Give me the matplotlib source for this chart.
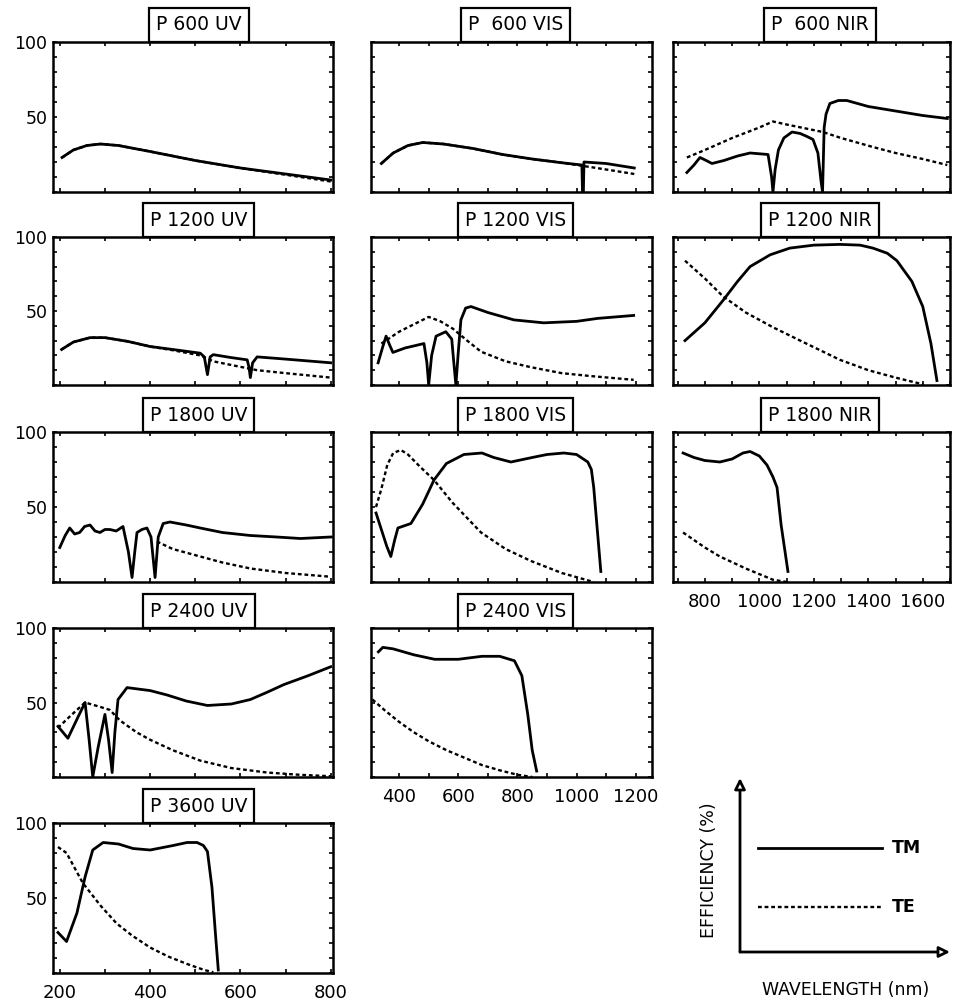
import matplotlib
matplotlib.use("Agg")
import matplotlib.pyplot as plt
from matplotlib.patches import FancyArrowPatch
from matplotlib.ticker import MultipleLocator, FixedLocator, NullFormatter

plt.rcParams['font.family'] = ['DejaVu Sans']

# ---------------- efficiency curves (wavelength in nm, efficiency in %) ----------------
# P 600 UV
p600uv_wl_tm = [205, 230, 260, 290, 330, 400, 500, 600, 700, 800]
p600uv_tm = [23, 28, 31, 32, 31, 27, 21, 16, 12, 8]
p600uv_wl_te = [205, 230, 260, 290, 330, 400, 500, 600, 700, 800]
p600uv_te = [23, 28, 31, 32, 31, 27, 21, 16, 11.5, 7]

# P 600 VIS
p600vis_wl_tm = [340, 380, 430, 480, 550, 650, 750, 850, 950, 1018, 1020, 1023, 1025, 1100, 1195]
p600vis_tm = [19, 26, 31, 33, 32, 29, 25, 22, 19.5, 18, 0, 0, 20, 19, 16]
p600vis_wl_te = [340, 380, 430, 480, 550, 650, 750, 850, 950, 1018, 1100, 1195]
p600vis_te = [19, 26, 31, 33, 32, 29, 25, 22, 19.5, 17.5, 15, 12]

# P 600 NIR
p600nir_wl_tm = [734, 760, 782, 805, 826, 870, 920, 966, 1032, 1045, 1050, 1058, 1070, 1090,
                 1120, 1150, 1175, 1197, 1215, 1226, 1232, 1238, 1245, 1259, 1290, 1321, 1400,
                 1500, 1600, 1690]
p600nir_tm = [13, 18, 23, 21, 19, 21, 24, 26, 25, 10, 0, 15, 28, 36,
              40, 39, 37, 35, 26, 8, 0, 43, 52, 59, 61, 61, 57,
              54, 51, 49]
p600nir_wl_te = [734, 800, 900, 1000, 1050, 1100, 1233, 1300, 1417, 1500, 1600, 1690]
p600nir_te = [23, 28, 36, 43, 47, 45, 40, 36, 30, 26, 22, 18]

# P 1200 UV
p1200uv_wl_tm = [204, 230, 267, 300, 350, 400, 450, 511, 520, 527, 533, 540, 580, 615, 619,
                 622, 627, 637, 700, 800]
p1200uv_tm = [24, 29, 32, 32, 29.5, 26, 24, 21.5, 19, 7, 19, 20.5, 18.5, 17, 12,
              5, 15, 19, 17.5, 15]
p1200uv_wl_te = [204, 230, 267, 300, 350, 400, 450, 511, 540, 580, 637, 700, 800]
p1200uv_te = [24, 29, 32, 32, 29.5, 26, 23.5, 20, 16, 13.5, 10, 8, 5]

# P 1200 VIS
p1200vis_wl_tm = [329, 345, 356, 368, 379, 420, 484, 494, 500, 510, 525, 558, 578, 585, 592,
                  600, 609, 625, 643, 700, 788, 889, 1000, 1071, 1193]
p1200vis_tm = [15, 26, 33, 27, 22, 25, 28, 15, 0, 20, 33, 36, 31, 15, 0,
               22, 44, 52, 53, 49, 44, 42, 43, 45, 47]
p1200vis_wl_te = [340, 400, 450, 500, 540, 582, 630, 677, 760, 846, 950, 1050, 1193]
p1200vis_te = [28, 36, 41, 46, 43, 38, 30, 22.5, 16, 12, 8, 6, 3.5]

# P 1200 NIR
p1200nir_wl_tm = [727, 800, 866, 920, 966, 1040, 1112, 1200, 1296, 1370, 1417, 1470, 1505,
                  1560, 1600, 1630, 1652]
p1200nir_tm = [30, 42, 57, 70, 80, 88, 92.5, 94.5, 95, 94.5, 92.5, 89, 84,
               70, 53, 28, 3]
p1200nir_wl_te = [727, 800, 866, 950, 1050, 1150, 1296, 1400, 1500, 1600]
p1200nir_te = [84, 72, 60, 49, 39, 30, 17, 10, 5, 0.5]

# P 1800 UV
p1800uv_wl_tm = [200, 212, 222, 233, 244, 255, 267, 278, 289, 300, 311, 325, 340, 352, 360,
                 366, 371, 382, 393, 402, 411, 418, 429, 444, 480, 511, 560, 622, 680, 733, 800]
p1800uv_tm = [23, 31, 36, 32, 33, 37, 38, 34, 33, 35, 35, 34, 37, 20, 3,
              20, 33, 35, 36, 30, 3, 30, 39, 40, 38, 36, 33, 31, 30, 29, 30]
p1800uv_wl_te = [415, 450, 511, 560, 622, 700, 800]
p1800uv_te = [27, 22, 17, 13, 9, 6, 3.5]

# P 1800 VIS
p1800vis_wl_tm = [322, 340, 358, 372, 385, 396, 440, 480, 518, 560, 619, 680, 720, 778, 850,
                  900, 957, 1000, 1038, 1050, 1058, 1070, 1082]
p1800vis_tm = [46, 35, 24, 17, 28, 36, 39, 52, 68, 79, 85, 86, 83, 80, 83,
               85, 86, 85, 80, 75, 63, 35, 7]
p1800vis_wl_te = [322, 340, 360, 380, 406, 430, 470, 518, 580, 677, 760, 846, 950, 1058]
p1800vis_te = [50, 62, 78, 86, 88, 85, 77, 68, 53, 33, 22, 14, 6, 0]

# P 1800 NIR
p1800nir_wl_tm = [720, 760, 800, 855, 900, 940, 966, 1000, 1028, 1050, 1065, 1080, 1105]
p1800nir_tm = [86, 83, 81, 80, 82, 86, 87, 84, 78, 70, 63, 38, 7]
p1800nir_wl_te = [720, 800, 855, 950, 1050, 1101]
p1800nir_te = [33, 23, 17, 9, 1.5, 0]

# P 2400 UV
p2400uv_wl_tm = [196, 218, 240, 256, 265, 273, 285, 300, 308, 316, 322, 329, 349, 400, 438,
                 480, 527, 580, 622, 660, 696, 750, 800]
p2400uv_tm = [34, 26, 40, 50, 25, 0, 20, 42, 25, 3, 30, 52, 60, 58, 55,
              51, 48, 49, 52, 57, 62, 68, 74]
p2400uv_wl_te = [196, 220, 256, 290, 311, 333, 370, 400, 450, 511, 580, 659, 730, 800]
p2400uv_te = [33, 40, 50, 47, 45, 38, 30, 25, 18, 11, 6, 3, 1.5, 0.5]

# P 2400 VIS
p2400vis_wl_tm = [330, 345, 380, 450, 520, 600, 680, 740, 790, 815, 835, 850, 865]
p2400vis_tm = [84, 87, 86, 82, 79, 79, 81, 81, 78, 68, 42, 18, 4]
p2400vis_wl_te = [310, 350, 400, 450, 500, 560, 620, 680, 740, 800, 850]
p2400vis_te = [52, 45, 37, 30, 24, 18, 13, 8, 4.5, 1.5, 0]

# P 3600 UV
p3600uv_wl_tm = [196, 215, 238, 256, 273, 296, 330, 362, 400, 451, 482, 504, 518, 527, 537,
                 545, 551]
p3600uv_tm = [27, 21, 40, 64, 82, 87, 86, 83, 82, 85, 87, 87, 85, 81, 57,
              25, 2]
p3600uv_wl_te = [196, 215, 251, 290, 326, 360, 400, 440, 482, 520, 540]
p3600uv_te = [84, 80, 60, 45, 33, 25, 17, 11, 6, 2, 0.5]

# grating name, column, row, curves
panels = [
    ("P 600 UV", 0, 0, p600uv_wl_tm, p600uv_tm, p600uv_wl_te, p600uv_te),
    ("P  600 VIS", 1, 0, p600vis_wl_tm, p600vis_tm, p600vis_wl_te, p600vis_te),
    ("P  600 NIR", 2, 0, p600nir_wl_tm, p600nir_tm, p600nir_wl_te, p600nir_te),
    ("P 1200 UV", 0, 1, p1200uv_wl_tm, p1200uv_tm, p1200uv_wl_te, p1200uv_te),
    ("P 1200 VIS", 1, 1, p1200vis_wl_tm, p1200vis_tm, p1200vis_wl_te, p1200vis_te),
    ("P 1200 NIR", 2, 1, p1200nir_wl_tm, p1200nir_tm, p1200nir_wl_te, p1200nir_te),
    ("P 1800 UV", 0, 2, p1800uv_wl_tm, p1800uv_tm, p1800uv_wl_te, p1800uv_te),
    ("P 1800 VIS", 1, 2, p1800vis_wl_tm, p1800vis_tm, p1800vis_wl_te, p1800vis_te),
    ("P 1800 NIR", 2, 2, p1800nir_wl_tm, p1800nir_tm, p1800nir_wl_te, p1800nir_te),
    ("P 2400 UV", 0, 3, p2400uv_wl_tm, p2400uv_tm, p2400uv_wl_te, p2400uv_te),
    ("P 2400 VIS", 1, 3, p2400vis_wl_tm, p2400vis_tm, p2400vis_wl_te, p2400vis_te),
    ("P 3600 UV", 0, 4, p3600uv_wl_tm, p3600uv_tm, p3600uv_wl_te, p3600uv_te),
]

col_xticks = [[200, 400, 600, 800], [400, 600, 800, 1000, 1200],
              [800, 1000, 1200, 1400, 1600]]
y_ticklabels = ["50", "100"]

# ---------------- layout (pixels) ----------------
W, H = 954, 1007
COLS = [(53, 333), (371, 652), (673, 950)]
ROWS = [(42, 192), (237, 385), (432, 582), (628, 777), (823, 973)]
XLIMS = [(185, 805), (305, 1255), (683, 1700)]
LABELLED_ROW = {0: 4, 1: 3, 2: 2}
TITLE_X = [0.52, 0.515, 0.53]

fig = plt.figure(figsize=(W / 100, H / 100), dpi=100)
fig.patch.set_facecolor("white")


def px_axes(x0, x1, y0, y1):
    return fig.add_axes([x0 / W, 1 - y1 / H, (x1 - x0) / W, (y1 - y0) / H])


TE_DASH = (0, (1.6, 1.2))

for title, c, r, wtm, tm, wte, te in panels:
    x0, x1 = COLS[c]
    y0, y1 = ROWS[r]
    ax = px_axes(x0, x1, y0, y1)
    ax.plot(wte, te, color="black", lw=1.7, linestyle=TE_DASH, zorder=2)
    ax.plot(wtm, tm, color="black", lw=2.0, solid_joinstyle="round", zorder=3)
    ax.set_xlim(*XLIMS[c])
    ax.set_ylim(0, 100)
    for s in ax.spines.values():
        s.set_linewidth(1.8)
    ax.xaxis.set_major_locator(FixedLocator(col_xticks[c]))
    ax.xaxis.set_minor_locator(MultipleLocator(100))
    ax.yaxis.set_major_locator(FixedLocator([50, 100]))
    ax.yaxis.set_minor_locator(MultipleLocator(10))
    ax.tick_params(which="both", direction="in", top=True, right=True,
                   length=3, width=1.2, labelsize=13, pad=6)
    if c == 0:
        ax.set_yticklabels(y_ticklabels)
        ax.tick_params(axis="y", pad=4, labelsize=12.5)
    else:
        ax.yaxis.set_major_formatter(NullFormatter())
    if LABELLED_ROW[c] == r:
        ax.set_xticklabels([str(v) for v in col_xticks[c]])
        ax.tick_params(axis="x", pad=8, labelsize=13)
    else:
        ax.xaxis.set_major_formatter(NullFormatter())
    ax.text(TITLE_X[c], 1.05, title, transform=ax.transAxes, ha="center", va="bottom",
            fontsize=13.5, clip_on=False, zorder=10,
            bbox=dict(boxstyle="square,pad=0.38", fc="white", ec="black", lw=1.6))

# ---------------- key: axes sketch with TM / TE line styles ----------------
kx0, kx1, ky0, ky1 = 690, 954, 770, 1007
kax = px_axes(kx0, kx1, ky0, ky1)
kax.set_xlim(kx0, kx1)
kax.set_ylim(ky1, ky0)
kax.axis("off")

kax.add_patch(FancyArrowPatch((740, 952), (740, 778), arrowstyle="-|>", mutation_scale=16,
                              lw=2, ec="black", fc="white", shrinkA=0, shrinkB=0))
kax.add_patch(FancyArrowPatch((740, 952), (950, 952), arrowstyle="-|>", mutation_scale=16,
                              lw=2, ec="black", fc="white", shrinkA=0, shrinkB=0))
kax.plot([758, 882], [848, 848], color="black", lw=2.0)
kax.plot([758, 882], [907, 907], color="black", lw=1.7, linestyle=TE_DASH)
kax.text(892, 848, "TM", ha="left", va="center", fontsize=12.5, fontweight="bold")
kax.text(892, 907, "TE", ha="left", va="center", fontsize=12.5, fontweight="bold")
kax.text(709, 870, "EFFICIENCY (%)", rotation=90, ha="center", va="center", fontsize=12.5)
kax.text(846, 990, "WAVELENGTH (nm)", ha="center", va="center", fontsize=12.5)

fig.savefig("out.png", dpi=100, facecolor="white")
